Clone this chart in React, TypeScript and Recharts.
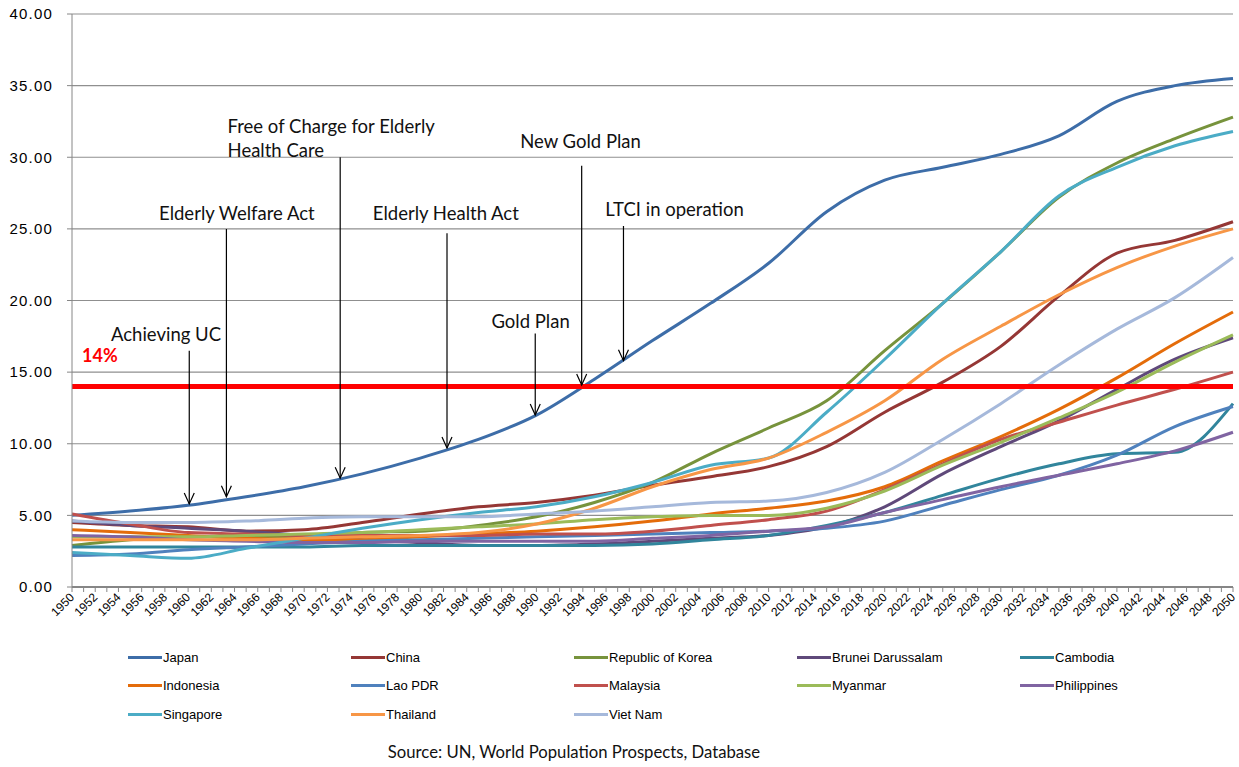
import { LineChart, Line, XAxis, YAxis, CartesianGrid, ReferenceLine, ReferenceDot } from 'recharts';

// Share of population aged 65+ (%) at 5-year steps
const YEARS = [1950, 1955, 1960, 1965, 1970, 1975, 1980, 1985, 1990, 1995, 2000, 2005, 2010, 2015, 2020, 2025, 2030, 2035, 2040, 2045, 2050];

const JAPAN = [5.0, 5.3, 5.7, 6.3, 7.0, 7.9, 9.0, 10.3, 12.0, 14.5, 17.2, 19.8, 22.6, 26.2, 28.4, 29.3, 30.2, 31.5, 33.9, 35.0, 35.5];
const CHINA = [4.5, 4.3, 4.2, 3.9, 4.0, 4.5, 5.1, 5.6, 5.9, 6.4, 7.1, 7.7, 8.4, 9.8, 12.2, 14.3, 16.8, 20.3, 23.3, 24.2, 25.5];
const KOREA = [2.9, 3.3, 3.5, 3.5, 3.5, 3.8, 3.9, 4.3, 4.9, 5.9, 7.3, 9.3, 11.1, 13.0, 16.5, 19.8, 23.4, 27.2, 29.6, 31.3, 32.8];
const BRUNEI = [4.6, 4.3, 4.1, 3.9, 3.6, 3.3, 3.1, 2.9, 2.9, 3.0, 3.2, 3.4, 3.6, 4.2, 5.6, 7.9, 9.8, 11.6, 13.8, 15.9, 17.4];
const CAMBODIA = [2.8, 2.8, 2.8, 2.8, 2.8, 2.9, 2.9, 2.9, 2.9, 2.9, 3.0, 3.3, 3.6, 4.3, 5.2, 6.4, 7.6, 8.6, 9.3, 9.4, 12.8];
const INDONESIA = [4.0, 3.8, 3.6, 3.4, 3.3, 3.3, 3.5, 3.7, 3.9, 4.2, 4.6, 5.1, 5.5, 6.0, 7.0, 8.8, 10.5, 12.4, 14.6, 17.0, 19.2];
const LAO = [2.2, 2.3, 2.6, 2.8, 3.0, 3.2, 3.3, 3.4, 3.5, 3.6, 3.7, 3.8, 3.9, 4.1, 4.6, 5.7, 6.8, 7.8, 9.2, 11.2, 12.6];
const MALAYSIA = [5.1, 4.4, 3.8, 3.7, 3.6, 3.6, 3.6, 3.6, 3.7, 3.7, 3.9, 4.3, 4.7, 5.3, 6.8, 8.6, 10.3, 11.5, 12.7, 13.8, 15.0];
const MYANMAR = [3.5, 3.5, 3.5, 3.6, 3.7, 3.8, 4.0, 4.2, 4.4, 4.7, 4.9, 5.0, 5.0, 5.5, 6.7, 8.5, 10.1, 11.8, 13.6, 15.7, 17.6];
const PHILIPPINES = [3.6, 3.5, 3.3, 3.2, 3.1, 3.1, 3.2, 3.2, 3.2, 3.2, 3.4, 3.6, 3.9, 4.2, 5.2, 6.1, 7.0, 7.8, 8.6, 9.5, 10.8];
const SINGAPORE = [2.4, 2.2, 2.0, 2.7, 3.4, 4.1, 4.7, 5.2, 5.6, 6.3, 7.3, 8.5, 9.0, 12.2, 15.9, 19.8, 23.4, 27.3, 29.3, 30.8, 31.8];
const THAILAND = [3.3, 3.3, 3.3, 3.3, 3.4, 3.5, 3.6, 3.8, 4.4, 5.5, 7.0, 8.2, 9.0, 10.8, 13.0, 15.9, 18.2, 20.4, 22.3, 23.8, 25.0];
const VIETNAM = [4.6, 4.5, 4.5, 4.6, 4.8, 4.9, 4.9, 4.9, 5.1, 5.3, 5.6, 5.9, 6.0, 6.6, 8.0, 10.3, 12.8, 15.5, 18.0, 20.2, 23.0];

const Y_TICKS = [0, 5, 10, 15, 20, 25, 30, 35, 40];
const X_TICKS = Array.from({ length: 101 }, (_, i) => 1950 + i);

const THRESHOLD = 14;

const SERIES = [
  { key: 'japan', name: 'Japan', color: '#3D6DA8', values: JAPAN },
  { key: 'china', name: 'China', color: '#953735', values: CHINA },
  { key: 'korea', name: 'Republic of Korea', color: '#77933C', values: KOREA },
  { key: 'brunei', name: 'Brunei Darussalam', color: '#5F497A', values: BRUNEI },
  { key: 'cambodia', name: 'Cambodia', color: '#31859C', values: CAMBODIA },
  { key: 'indonesia', name: 'Indonesia', color: '#E46C0A', values: INDONESIA },
  { key: 'lao', name: 'Lao PDR', color: '#4F81BD', values: LAO },
  { key: 'malaysia', name: 'Malaysia', color: '#C0504D', values: MALAYSIA },
  { key: 'myanmar', name: 'Myanmar', color: '#9BBB59', values: MYANMAR },
  { key: 'philippines', name: 'Philippines', color: '#8064A2', values: PHILIPPINES },
  { key: 'singapore', name: 'Singapore', color: '#4BACC6', values: SINGAPORE },
  { key: 'thailand', name: 'Thailand', color: '#F79646', values: THAILAND },
  { key: 'vietnam', name: 'Viet Nam', color: '#A6B9DB', values: VIETNAM },
];

// policy milestones: arrow from label down to the Japan curve
const EVENTS = [
  { year: 1960.1, top: 16.5, tip: 5.8 },
  { year: 1963.3, top: 25.0, tip: 6.3 },
  { year: 1973.1, top: 30.0, tip: 7.6 },
  { year: 1982.3, top: 24.7, tip: 9.7 },
  { year: 1989.9, top: 17.7, tip: 12.0 },
  { year: 1993.9, top: 29.4, tip: 14.1 },
  { year: 1997.5, top: 25.2, tip: 15.8 },
];

const EVENT_LABELS = [
  { text: 'Achieving UC', x: 1958.1, y: 17.65, anchor: 'middle' },
  { text: 'Elderly Welfare Act', x: 1964.2, y: 26.1, anchor: 'middle' },
  { text: 'Free of Charge for Elderly', x: 1963.4, y: 32.2, anchor: 'start' },
  { text: 'Health Care', x: 1963.4, y: 30.5, anchor: 'start' },
  { text: 'Elderly Health Act', x: 1982.2, y: 26.1, anchor: 'middle' },
  { text: 'Gold Plan', x: 1989.5, y: 18.6, anchor: 'middle' },
  { text: 'New Gold Plan', x: 1993.8, y: 31.1, anchor: 'middle' },
  { text: 'LTCI in operation', x: 2001.9, y: 26.4, anchor: 'middle' },
];

const chartData = YEARS.map((year, i) => {
  const row: Record<string, number> = { year };
  SERIES.forEach((s) => {
    row[s.key] = s.values[i];
  });
  return row;
});

const ANNOTATION_FONT = 'Lato, "Open Sans", sans-serif';
const AXIS_FONT = '"Liberation Sans", Arial, sans-serif';

const YearTick = ({ x, y, payload }: any) => {
  if (payload.value % 2 !== 0) return null;
  const ax = x + 3;
  const ay = y + 4;
  return (
    <text
      x={ax}
      y={ay}
      transform={`rotate(-45, ${ax}, ${ay})`}
      textAnchor="end"
      fontSize={12}
      fontFamily={AXIS_FONT}
      fill="#000"
    >
      {payload.value}
    </text>
  );
};

const arrowShape = (props: any) => {
  const { x1, y1, x2, y2 } = props;
  return (
    <g>
      <line x1={x1} y1={y1} x2={x2} y2={y2} stroke="#000" strokeWidth={1.2} />
      <path d={`M${x2 - 5},${y2 - 11} L${x2},${y2} L${x2 + 5},${y2 - 11}`} fill="none" stroke="#000" strokeWidth={1.2} />
    </g>
  );
};

const Legend13 = () => (
  <div
    style={{
      position: 'absolute',
      left: 128,
      top: 643,
      display: 'grid',
      gridTemplateColumns: 'repeat(5, 223px)',
      fontFamily: AXIS_FONT,
      fontSize: 13,
      color: '#000',
    }}
  >
    {SERIES.map((s) => (
      <div key={s.key} style={{ display: 'flex', alignItems: 'center', height: 28.5 }}>
        <span style={{ display: 'inline-block', width: 34, height: 3, background: s.color, marginRight: 1 }} />
        <span>{s.name}</span>
      </div>
    ))}
  </div>
);

const App = () => (
  <div style={{ position: 'absolute', left: 0, top: 0, width: 1239, height: 767, background: '#fff' }}>
    <LineChart width={1239} height={650} data={chartData} margin={{ top: 14, right: 6, bottom: 0, left: 0 }}>
      <CartesianGrid vertical={false} stroke="#8f8f8f" strokeWidth={1.2} />
      <XAxis
        dataKey="year"
        type="number"
        domain={[1950, 2050]}
        ticks={X_TICKS}
        interval={0}
        height={63}
        tick={<YearTick />}
        tickSize={5}
        stroke="#868686"
        axisLine={{ stroke: '#868686', strokeWidth: 2 }}
      />
      <YAxis
        domain={[0, 40]}
        ticks={Y_TICKS}
        width={72}
        tickSize={5}
        tickMargin={14}
        stroke="#868686"
        tickFormatter={(v: number) => v.toFixed(2)}
        tick={{ fill: '#000', fontSize: 15, fontFamily: AXIS_FONT, letterSpacing: 1.2 }}
      />
      {SERIES.map((s) => (
        <Line
          key={s.key}
          type="monotone"
          dataKey={s.key}
          name={s.name}
          stroke={s.color}
          strokeWidth={3}
          dot={false}
          isAnimationActive={false}
        />
      ))}
      <ReferenceLine y={THRESHOLD} stroke="#FF0000" strokeWidth={5} ifOverflow="visible" />
      {EVENTS.map((e, i) => (
        <ReferenceLine
          key={`ev-${i}`}
          segment={[{ x: e.year, y: e.top }, { x: e.year, y: e.tip }]}
          shape={arrowShape}
          ifOverflow="visible"
        />
      ))}
      {EVENT_LABELS.map((l, i) => (
        <ReferenceDot
          key={`lb-${i}`}
          x={l.x}
          y={l.y}
          r={1}
          ifOverflow="visible"
          shape={(p: any) => (
            <text
              x={p.cx}
              y={p.cy}
              textAnchor={l.anchor as any}
              dominantBaseline="central"
              fontFamily={ANNOTATION_FONT}
              fontSize={18.5}
              fill="#111"
            >
              {l.text}
            </text>
          )}
        />
      ))}
      <ReferenceDot
        x={1952.4}
        y={16.2}
        r={1}
        ifOverflow="visible"
        shape={(p: any) => (
          <text
            x={p.cx}
            y={p.cy}
            textAnchor="middle"
            dominantBaseline="central"
            fontFamily={ANNOTATION_FONT}
            fontSize={18}
            fontWeight="bold"
            fill="#FF0000"
          >
            14%
          </text>
        )}
      />
    </LineChart>
    <Legend13 />
    <div
      style={{
        position: 'absolute',
        left: 0,
        width: 1148,
        top: 742,
        textAlign: 'center',
        fontFamily: ANNOTATION_FONT,
        fontSize: 16.7,
        color: '#111',
      }}
    >
      Source: UN, World Population Prospects, Database
    </div>
  </div>
);

export default App;
